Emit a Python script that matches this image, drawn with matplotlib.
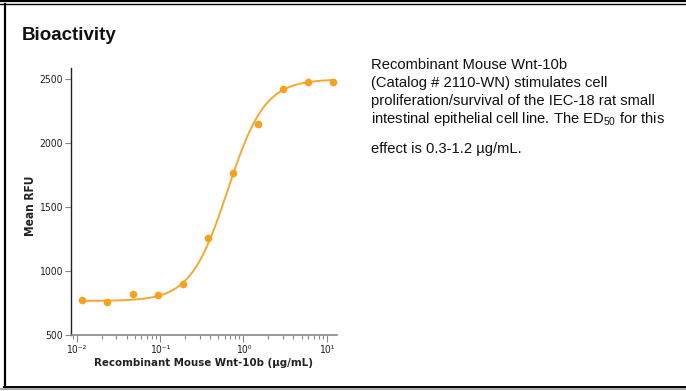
import numpy as np
import matplotlib
matplotlib.use("Agg")
import matplotlib.pyplot as plt
from matplotlib.lines import Line2D
from matplotlib import font_manager as fm

# ---- data ----
conc = [12/1024, 12/512, 12/256, 12/128, 12/64, 12/32, 12/16, 12/8, 12/4, 12/2, 12.0]
rfu = [770, 755, 818, 810, 900, 1255, 1760, 2145, 2420, 2475, 2472]
# 4-parameter logistic fit parameters
fit_bottom, fit_top, fit_ec50, fit_hill = 765, 2495, 0.65, 1.95
yticks = [500, 1000, 1500, 2000, 2500]
xticks = [0.01, 0.1, 1, 10]
xticklabels = ["10\u207b\u00b2", "10\u207b\u00b9", "10\u2070", "10\u00b9"]
title = "Bioactivity"
xlabel = "Recombinant Mouse Wnt-10b (\u00b5g/mL)"
ylabel = "Mean RFU"

# ---- find a condensed font if any is installed ----
cond_reg, cond_bold = None, None
for f in fm.fontManager.ttflist:
    nm = (f.fname + ' ' + f.name).lower()
    if ('condensed' in nm or 'narrow' in nm or f.stretch in ('condensed', 'semi-condensed', 'extra-condensed')) \
            and 'oblique' not in nm and 'italic' not in nm and f.style == 'normal':
        w = f.weight if isinstance(f.weight, int) else (700 if 'bold' in str(f.weight) else 400)
        if w >= 600:
            if cond_bold is None:
                cond_bold = f.fname
        elif w <= 500:
            if cond_reg is None:
                cond_reg = f.fname

if cond_bold or cond_reg:
    xlab_fp = fm.FontProperties(fname=cond_bold or cond_reg, size=8.2)
    ylab_fp = fm.FontProperties(fname=cond_bold or cond_reg, size=8.5)
    tick_fp = fm.FontProperties(fname=cond_reg or cond_bold, size=7.5)
else:
    xlab_fp = fm.FontProperties(family='Liberation Sans', weight='bold', size=7.5)
    ylab_fp = fm.FontProperties(family='Liberation Sans', weight='bold', size=8)
    tick_fp = fm.FontProperties(family='Liberation Sans', size=7)

plt.rcParams['mathtext.fontset'] = 'custom'
plt.rcParams['mathtext.rm'] = 'Liberation Sans'

W, H = 686, 391
fig = plt.figure(figsize=(W/100, H/100), dpi=100)

def fx(px):
    return px / W
def fy(py):
    return 1 - py / H

# frame lines
fig.add_artist(Line2D([0, 1], [fy(0.8), fy(0.8)], color='black', lw=1.6, transform=fig.transFigure))
fig.add_artist(Line2D([0, 1], [fy(3.8), fy(3.8)], color='black', lw=1.0, transform=fig.transFigure))
fig.add_artist(Line2D([fx(4.5), fx(4.5)], [fy(4), fy(387)], color='black', lw=1.6, transform=fig.transFigure))
fig.add_artist(Line2D([fx(4), 1], [fy(386.5), fy(386.5)], color='black', lw=1.4, transform=fig.transFigure))
fig.add_artist(Line2D([0, 1], [fy(389), fy(389)], color='#999999', lw=1.2, transform=fig.transFigure))

fig.text(fx(22), fy(35), title, fontsize=13.5, fontweight='bold', family='Liberation Sans',
         va='center', ha='left', color='#111111')

ax = fig.add_axes([fx(71), fy(335), fx(337) - fx(71), fy(68) - fy(335)])
xs = np.logspace(np.log10(conc[0]), np.log10(conc[-1]), 300)
ys = fit_bottom + (fit_top - fit_bottom) / (1 + (fit_ec50 / xs) ** fit_hill)
ax.plot(xs, ys, color='#F5A833', lw=1.4, zorder=2)
ax.plot(conc, rfu, 'o', color='#F7A21E', ms=5.5, mec='none', zorder=3)
ax.set_xscale('log')
ax.set_xlim(10 ** -2.068, 10 ** 1.125)
ax.set_ylim(500, 2583)
ax.set_yticks(yticks)
ax.set_yticklabels([str(v) for v in yticks])
ax.set_xticks(xticks)
ax.set_xticklabels(xticklabels)
ax.xaxis.set_minor_locator(matplotlib.ticker.LogLocator(base=10, subs=np.arange(2, 10)))
ax.xaxis.set_minor_formatter(matplotlib.ticker.NullFormatter())
for s in ['top', 'right']:
    ax.spines[s].set_visible(False)
ax.spines['left'].set_color('#222222')
ax.spines['left'].set_linewidth(1.0)
ax.spines['bottom'].set_color('#888888')
ax.spines['bottom'].set_linewidth(1.2)
ax.tick_params(axis='y', direction='out', length=4, width=0.8, color='#888888',
               pad=2, labelcolor='#222222')
ax.tick_params(axis='x', which='major', direction='out', length=5, width=0.8, color='#888888',
               pad=2, labelcolor='#222222')
ax.tick_params(axis='x', which='minor', direction='out', length=3, width=0.8, color='#888888')
for lab in ax.get_yticklabels() + ax.get_xticklabels():
    lab.set_fontproperties(tick_fp)
ax.set_xlabel(xlabel, fontproperties=xlab_fp, color='#222222', labelpad=2)
ax.set_ylabel(ylabel, fontproperties=ylab_fp, color='#222222')
ax.yaxis.set_label_coords(-0.128, 0.485)

# description text
desc_lines = [
    "Recombinant Mouse Wnt-10b",
    "(Catalog # 2110-WN) stimulates cell",
    "proliferation/survival of the IEC-18 rat small",
    r"intestinal epithelial cell line. The ED$_{\mathrm{50}}$ for this",
    "effect is 0.3-1.2 \u00b5g/mL.",
]
desc_y = [69, 87, 105, 123, 153]
for t, yy in zip(desc_lines, desc_y):
    fig.text(fx(371), fy(yy), t, fontsize=10.6, family='Liberation Sans', va='baseline', ha='left',
             color='#111111')

fig.savefig('out.png', dpi=100)
